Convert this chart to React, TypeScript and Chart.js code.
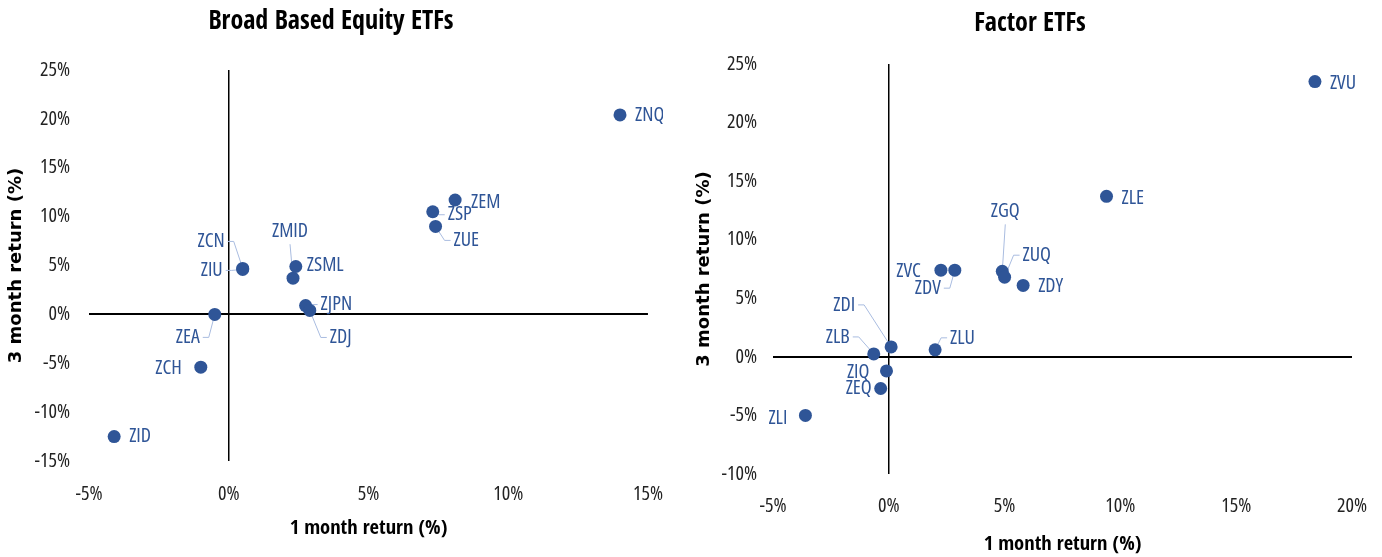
import React, { useEffect, useRef } from "react";
import { Chart, registerables } from "chart.js";

Chart.register(...registerables);

// ---------- Data ----------
const broadNames = ["ZNQ", "ZEM", "ZSP", "ZUE", "ZCN", "ZIU", "ZMID", "ZSML", "ZJPN", "ZDJ", "ZEA", "ZCH", "ZID"];
const broadOneMonth = [14.0, 8.1, 7.3, 7.4, 0.5, 0.5, 2.3, 2.4, 2.75, 2.9, -0.5, -1.0, -4.1];
const broadThreeMonth = [20.4, 11.7, 10.5, 9.0, 4.7, 4.6, 3.7, 4.9, 0.9, 0.4, 0.0, -5.4, -12.5];

const factorNames = ["ZVU", "ZLE", "ZGQ", "ZUQ", "ZVC", "ZDV", "ZDY", "ZDI", "ZLB", "ZLU", "ZIQ", "ZEQ", "ZLI"];
const factorOneMonth = [18.4, 9.4, 4.9, 5.0, 2.25, 2.85, 5.8, 0.1, -0.65, 2.0, -0.1, -0.35, -3.6];
const factorThreeMonth = [23.5, 13.7, 7.3, 6.8, 7.4, 7.4, 6.1, 0.85, 0.25, 0.6, -1.2, -2.7, -5.0];

const broadXTicks = [-5, 0, 5, 10, 15];
const broadYTicks = [-15, -10, -5, 0, 5, 10, 15, 20, 25];
const factorXTicks = [-5, 0, 5, 10, 15, 20];
const factorYTicks = [-10, -5, 0, 5, 10, 15, 20, 25];

// ---------- Label placement (style: pixel offsets, alignment, leader line) ----------
type Off = [number, number, "left" | "right" | "center", boolean];
const broadLabelStyle: Off[] = [
  [15, 0, "left", false],
  [16, 2, "left", false],
  [15, 3, "left", true],
  [18, 14, "left", true],
  [-18, -27, "right", true],
  [-20, 1, "right", true],
  [-3, -47, "center", true],
  [11, -1, "left", false],
  [15, -1, "left", true],
  [20, 27, "left", true],
  [-15, 23, "right", true],
  [-19, 1, "right", false],
  [15, 0, "left", false],
];
const factorLabelStyle: Off[] = [
  [15, 2, "left", false],
  [15, 2, "left", false],
  [3, -60, "center", true],
  [18, -22, "left", true],
  [-20, 1, "right", false],
  [-14, 18, "right", true],
  [15, 1, "left", false],
  [-36, -42, "right", true],
  [-24, -17, "right", true],
  [15, -12, "left", true],
  [-17, 1, "right", false],
  [-9, 0, "right", false],
  [-18, 3, "right", false],
];

const DOT = "#2F5597";
const LEADER = "#A9BCE0";
const OPEN = '"Open Sans", "Roboto Condensed", sans-serif';
const OPEN_BOLD_COND = '"Open Sans Condensed", "Roboto Condensed", sans-serif';
const LABEL_FONT = `condensed 20px ${OPEN}`;

const labelPlugin = {
  id: "pointLabels",
  beforeDatasetsDraw(chart: any, _a: any, opts: any) {
    const ctx = chart.ctx;
    const meta = chart.getDatasetMeta(0);
    ctx.save();
    ctx.strokeStyle = LEADER;
    ctx.lineWidth = 1;
    meta.data.forEach((el: any, i: number) => {
      const [dx, dy, align, leader] = opts.offsets[i] as Off;
      if (!leader) return;
      const px = el.x, py = el.y;
      const tx = px + dx, ty = py + dy;
      ctx.beginPath();
      if (align === "center") {
        ctx.moveTo(tx, ty + 13);
        ctx.lineTo(px, py);
      } else {
        const s = align === "left" ? -1 : 1;
        ctx.moveTo(tx + s * 3, ty);
        ctx.lineTo(tx + s * 9, ty);
        ctx.lineTo(px, py);
      }
      ctx.stroke();
    });
    ctx.restore();
  },
  afterDatasetsDraw(chart: any, _a: any, opts: any) {
    const ctx = chart.ctx;
    const meta = chart.getDatasetMeta(0);
    ctx.save();
    ctx.font = LABEL_FONT;
    ctx.textBaseline = "middle";
    ctx.fillStyle = DOT;
    meta.data.forEach((el: any, i: number) => {
      const [dx, dy, align] = opts.offsets[i] as Off;
      ctx.textAlign = align;
      ctx.fillText(opts.names[i], el.x + dx, el.y + dy);
    });
    ctx.restore();
  },
};

interface Cfg {
  title: string;
  names: string[];
  xs: number[];
  ys: number[];
  offsets: Off[];
  xTicks: number[];
  yTicks: number[];
  width: number;
  padLeft: number;
  padRight: number;
  yWidth: number;
  xHeight: number;
  titlePadTop: number;
  titlePadBottom: number;
  yTickPad: number;
  yTitlePad: number;
  xTickLen: number;
  xTitlePadBottom: number;
}

function ScatterPanel({ cfg, left }: { cfg: Cfg; left: number }) {
  const ref = useRef<HTMLCanvasElement | null>(null);
  useEffect(() => {
    if (!ref.current) return;
    const data = cfg.xs.map((x, i) => ({ x, y: cfg.ys[i] }));
    const zeroColor = (c: any) => (c.tick && c.tick.value === 0 ? "#000" : "rgba(0,0,0,0)");
    const chart = new Chart(ref.current, {
      type: "scatter",
      data: {
        datasets: [
          {
            data,
            backgroundColor: DOT,
            borderWidth: 0,
            pointRadius: 6.5,
            pointHoverRadius: 6.5,
          },
        ],
      },
      plugins: [labelPlugin as any],
      options: {
        responsive: false,
        animation: false,
        events: [],
        layout: { padding: { left: cfg.padLeft, right: cfg.padRight, top: 0, bottom: 0 } },
        plugins: {
          legend: { display: false },
          tooltip: { enabled: false },
          title: {
            display: true,
            text: cfg.title,
            color: "#000",
            font: { family: OPEN_BOLD_COND, size: 26, weight: "bold", lineHeight: 1.2 },
            padding: { top: cfg.titlePadTop, bottom: cfg.titlePadBottom },
          },
          pointLabels: { names: cfg.names, offsets: cfg.offsets },
        } as any,
        scales: {
          x: {
            type: "linear",
            min: cfg.xTicks[0],
            max: cfg.xTicks[cfg.xTicks.length - 1],
            afterBuildTicks: (s: any) => {
              s.ticks = cfg.xTicks.map((v) => ({ value: v }));
            },
            afterFit: (s: any) => {
              s.height = cfg.xHeight;
            },
            border: { display: false },
            grid: {
              color: zeroColor,
              lineWidth: 1.5,
              drawTicks: true,
              tickLength: cfg.xTickLen,
              tickColor: "rgba(0,0,0,0)",
            },
            ticks: {
              padding: 0,
              color: "#222",
              font: { family: OPEN, size: 20, weight: "condensed" },
              maxRotation: 0,
              callback: (v: any) => `${v}%`,
            },
            title: {
              display: true,
              text: "1 month return (%)",
              color: "#000",
              font: { family: OPEN_BOLD_COND, size: 20.5, weight: "bold" },
              padding: { top: 0, bottom: cfg.xTitlePadBottom },
            },
          },
          y: {
            type: "linear",
            min: cfg.yTicks[0],
            max: cfg.yTicks[cfg.yTicks.length - 1],
            afterBuildTicks: (s: any) => {
              s.ticks = cfg.yTicks.map((v) => ({ value: v }));
            },
            afterFit: (s: any) => {
              s.width = cfg.yWidth;
            },
            border: { display: false },
            grid: { color: zeroColor, lineWidth: 2, drawTicks: false },
            ticks: {
              padding: cfg.yTickPad,
              color: "#222",
              font: { family: OPEN, size: 20, weight: "condensed" },
              callback: (v: any) => `${v}%`,
            },
            title: {
              display: true,
              text: "3 month return (%)",
              color: "#000",
              font: { family: '"DejaVu Sans", Verdana, sans-serif', size: 18, weight: "bold" },
              padding: { top: cfg.yTitlePad, bottom: 0 },
            },
          },
        },
      } as any,
    });
    return () => chart.destroy();
  }, [cfg]);
  return (
    <div style={{ position: "absolute", left, top: 0, width: cfg.width, height: 557 }}>
      <canvas ref={ref} width={cfg.width} height={557} style={{ display: "block" }} />
    </div>
  );
}

const broadCfg: Cfg = {
  title: "Broad Based Equity ETFs",
  names: broadNames,
  xs: broadOneMonth,
  ys: broadThreeMonth,
  offsets: broadLabelStyle,
  xTicks: broadXTicks,
  yTicks: broadYTicks,
  width: 663,
  padLeft: 14,
  padRight: 15,
  yWidth: 75,
  xHeight: 96,
  titlePadTop: 7,
  titlePadBottom: 31.8,
  yTickPad: 19,
  yTitlePad: -8.8,
  xTickLen: 21,
  xTitlePadBottom: 16,
};

const factorCfg: Cfg = {
  title: "Factor ETFs",
  names: factorNames,
  xs: factorOneMonth,
  ys: factorThreeMonth,
  offsets: factorLabelStyle,
  xTicks: factorXTicks,
  yTicks: factorYTicks,
  width: 680,
  padLeft: 18,
  padRight: 18,
  yWidth: 65,
  xHeight: 83,
  titlePadTop: 9,
  titlePadBottom: 23.8,
  yTickPad: 16,
  yTitlePad: -14.8,
  xTickLen: 20,
  xTitlePadBottom: 0,
};

export default function App() {
  return (
    <div style={{ position: "absolute", left: 0, top: 0, width: 1382, height: 557, background: "#fff", overflow: "hidden" }}>
      <ScatterPanel cfg={broadCfg} left={0} />
      <ScatterPanel cfg={factorCfg} left={690} />
    </div>
  );
}
